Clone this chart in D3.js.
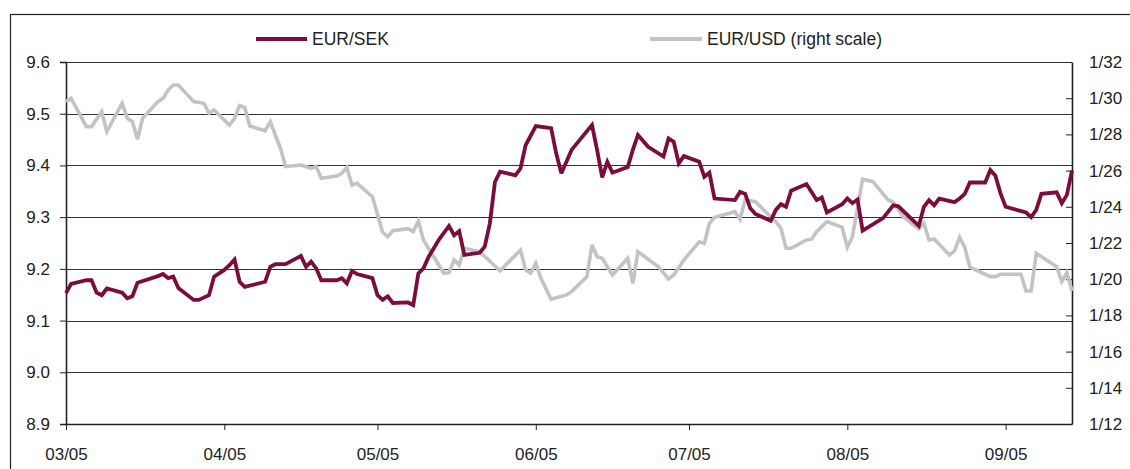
<!DOCTYPE html>
<html>
<head>
<meta charset="utf-8">
<script src="https://cdn.jsdelivr.net/npm/d3@7"></script>
<style>
  html, body { margin: 0; padding: 0; background: #fff; }
  svg { display: block; }
  text { font-family: "Liberation Sans", Arial, sans-serif; fill: #222; }
</style>
</head>
<body>
<svg id="chart" width="1130" height="469"></svg>
<script>
// ---- data (days counted from 1 March 2005) ----
const startDate = new Date(2005, 2, 1);
const endDay = 197;

const sekDays = [0,1,4,5,6,7,8,11,12,13,14,18,19,20,21,22,25,26,28,29,31,32,33,34,35,39,40,41,43,46,47,48,49,50,53,54,55,56,57,60,61,62,63,64,67,68,69,70,71,73,75,76,77,78,81,82,83,84,85,88,89,90,92,95,96,97,98,99,103,104,105,106,107,110,111,112,114,117,118,119,120,121,124,125,126,127,131,132,133,134,135,138,139,140,141,142,145,147,148,149,152,153,154,155,156,160,162,163,167,168,169,170,171,174,175,176,177,180,181,182,183,184,188,189,190,191,194,195,196,197];
const sekValues = [9.153,9.171,9.178,9.178,9.154,9.149,9.162,9.154,9.143,9.147,9.173,9.186,9.190,9.182,9.185,9.163,9.140,9.140,9.149,9.185,9.198,9.207,9.218,9.175,9.165,9.175,9.204,9.209,9.209,9.225,9.204,9.214,9.201,9.178,9.178,9.182,9.172,9.196,9.190,9.182,9.149,9.140,9.147,9.134,9.135,9.130,9.191,9.201,9.223,9.256,9.283,9.265,9.273,9.227,9.231,9.243,9.288,9.368,9.388,9.381,9.394,9.439,9.476,9.472,9.423,9.385,9.407,9.430,9.478,9.430,9.377,9.407,9.386,9.397,9.430,9.459,9.436,9.417,9.452,9.446,9.404,9.418,9.407,9.378,9.386,9.336,9.333,9.349,9.345,9.317,9.306,9.293,9.314,9.325,9.320,9.351,9.364,9.333,9.338,9.309,9.325,9.336,9.327,9.334,9.274,9.298,9.323,9.321,9.283,9.320,9.333,9.323,9.336,9.329,9.336,9.345,9.367,9.367,9.391,9.380,9.346,9.320,9.309,9.300,9.314,9.345,9.348,9.327,9.343,9.390];

const usdDays = [0,1,4,5,7,8,11,12,13,14,15,18,19,20,21,22,25,27,28,29,32,33,34,35,36,39,40,42,43,46,48,49,50,53,54,55,56,57,60,62,63,64,67,68,69,70,72,74,75,76,77,78,81,85,89,90,91,92,93,95,98,99,100,102,103,104,105,107,110,111,112,116,118,119,121,124,125,126,127,131,132,133,135,139,140,141,142,145,146,147,149,152,153,154,156,158,161,162,164,167,168,169,170,173,174,175,176,177,181,182,183,187,188,189,190,194,195,196,197];
const usdValues = [1.2981,1.2999,1.2843,1.2843,1.2925,1.2815,1.2972,1.2889,1.2870,1.2773,1.2889,1.2981,1.2999,1.3045,1.3073,1.3073,1.2981,1.2972,1.2917,1.2935,1.2852,1.2889,1.2959,1.2948,1.2846,1.2820,1.2870,1.2723,1.2622,1.2631,1.2613,1.2622,1.2557,1.2570,1.2585,1.2618,1.2520,1.2530,1.2456,1.2259,1.2235,1.2268,1.2279,1.2262,1.2322,1.2217,1.2124,1.2033,1.2036,1.2106,1.2078,1.2171,1.2152,1.2047,1.2161,1.2051,1.2033,1.2088,1.2005,1.1889,1.1913,1.1931,1.1959,1.2014,1.2189,1.2124,1.2115,1.2023,1.2115,1.1977,1.2152,1.2069,1.2001,1.2023,1.2106,1.2207,1.2198,1.2309,1.2342,1.2373,1.2331,1.2439,1.2428,1.2318,1.2281,1.2171,1.2171,1.2217,1.2221,1.2262,1.2318,1.2287,1.2176,1.2235,1.2552,1.2539,1.2438,1.2425,1.2344,1.2277,1.2309,1.2217,1.2222,1.2134,1.2157,1.2231,1.2176,1.2066,1.2014,1.2014,1.2027,1.2027,1.1935,1.1935,1.2143,1.2069,1.1986,1.2036,1.1935];

const leftTicks = [8.9, 9.0, 9.1, 9.2, 9.3, 9.4, 9.5, 9.6];
const rightTicks = [1.12, 1.14, 1.16, 1.18, 1.20, 1.22, 1.24, 1.26, 1.28, 1.30, 1.32];
const rightTickLabels = ["1/12","1/14","1/16","1/18","1/20","1/22","1/24","1/26","1/28","1/30","1/32"];
const seriesNames = ["EUR/SEK", "EUR/USD (right scale)"];
const seriesColors = ["#7b0d3e", "#c3c3c3"];

// ---- layout ----
const W = 1130, H = 469;
const m = { left: 66, right: 1072, top: 62, bottom: 424 };
const svg = d3.select("#chart");
const dayToDate = d => new Date(startDate.getFullYear(), startDate.getMonth(), startDate.getDate() + d);

const x = d3.scaleTime().domain([startDate, dayToDate(endDay)]).range([m.left, m.right]);
const yL = d3.scaleLinear().domain([8.9, 9.6]).range([m.bottom, m.top]);
const yR = d3.scaleLinear().domain([1.12, 1.32]).range([m.bottom, m.top]);

// outer frame
svg.append("rect").attr("x", 10.5).attr("y", 14.5).attr("width", W).attr("height", H)
  .attr("fill", "none").attr("stroke", "#222").attr("stroke-width", 1.2);

// gridlines
svg.append("g").selectAll("line").data(leftTicks).join("line")
  .attr("x1", m.left).attr("x2", m.right)
  .attr("y1", d => Math.round(yL(d)) + 0.5).attr("y2", d => Math.round(yL(d)) + 0.5)
  .attr("stroke", "#333").attr("stroke-width", 1);

// left axis
const gL = svg.append("g").attr("transform", `translate(${m.left},0)`)
  .call(d3.axisLeft(yL).tickValues(leftTicks).tickFormat(d => d.toFixed(1)).tickSize(6).tickPadding(10));
gL.select(".domain").attr("stroke", "#222").attr("stroke-width", 1.6);
gL.selectAll(".tick line").attr("stroke", "#222");
gL.selectAll(".tick text").attr("font-size", 17).attr("font-family", "Liberation Sans, Arial, sans-serif").attr("fill", "#222");

// right axis
const gR = svg.append("g").attr("transform", `translate(${m.right},0)`)
  .call(d3.axisRight(yR).tickValues(rightTicks).tickFormat((d, i) => rightTickLabels[i]).tickSizeInner(-6).tickSizeOuter(0).tickPadding(17));
gR.select(".domain").attr("stroke", "#222").attr("stroke-width", 1.6);
gR.selectAll(".tick line").attr("stroke", "#222");
gR.selectAll(".tick text").attr("font-size", 17).attr("font-family", "Liberation Sans, Arial, sans-serif").attr("fill", "#222");

// bottom axis
const gB = svg.append("g").attr("transform", `translate(0,${m.bottom})`)
  .call(d3.axisBottom(x).ticks(d3.timeMonth.every(1)).tickFormat(d3.timeFormat("%m/%y")).tickSize(6).tickSizeOuter(0).tickPadding(18));
gB.select(".domain").attr("stroke", "#222").attr("stroke-width", 1.6);
gB.selectAll(".tick line").attr("stroke", "#222");
gB.selectAll(".tick text").attr("font-size", 17).attr("font-family", "Liberation Sans, Arial, sans-serif").attr("fill", "#222");

// lines
const usdData = usdDays.map((d, i) => ({ date: dayToDate(d), v: usdValues[i] }));
const sekData = sekDays.map((d, i) => ({ date: dayToDate(d), v: sekValues[i] }));

svg.append("path").datum(usdData)
  .attr("fill", "none").attr("stroke", seriesColors[1]).attr("stroke-width", 3.6)
  .attr("stroke-linejoin", "miter").attr("stroke-miterlimit", 3)
  .attr("d", d3.line().x(d => x(d.date)).y(d => yR(d.v)));

svg.append("path").datum(sekData)
  .attr("fill", "none").attr("stroke", seriesColors[0]).attr("stroke-width", 3.8)
  .attr("stroke-linejoin", "miter").attr("stroke-miterlimit", 3)
  .attr("d", d3.line().x(d => x(d.date)).y(d => yL(d.v)));

// legend
const legendItems = [
  { x1: 256, x2: 307, ty: 39 },
  { x1: 650, x2: 702, ty: 39 }
];
const lg = svg.append("g");
legendItems.forEach((p, i) => {
  lg.append("line").attr("x1", p.x1).attr("x2", p.x2).attr("y1", p.ty).attr("y2", p.ty)
    .attr("stroke", seriesColors[i]).attr("stroke-width", 4);
  lg.append("text").attr("x", p.x2 + 5).attr("y", p.ty).attr("dy", "0.36em")
    .attr("font-size", 17.5).text(seriesNames[i]);
});
</script>
</body>
</html>
